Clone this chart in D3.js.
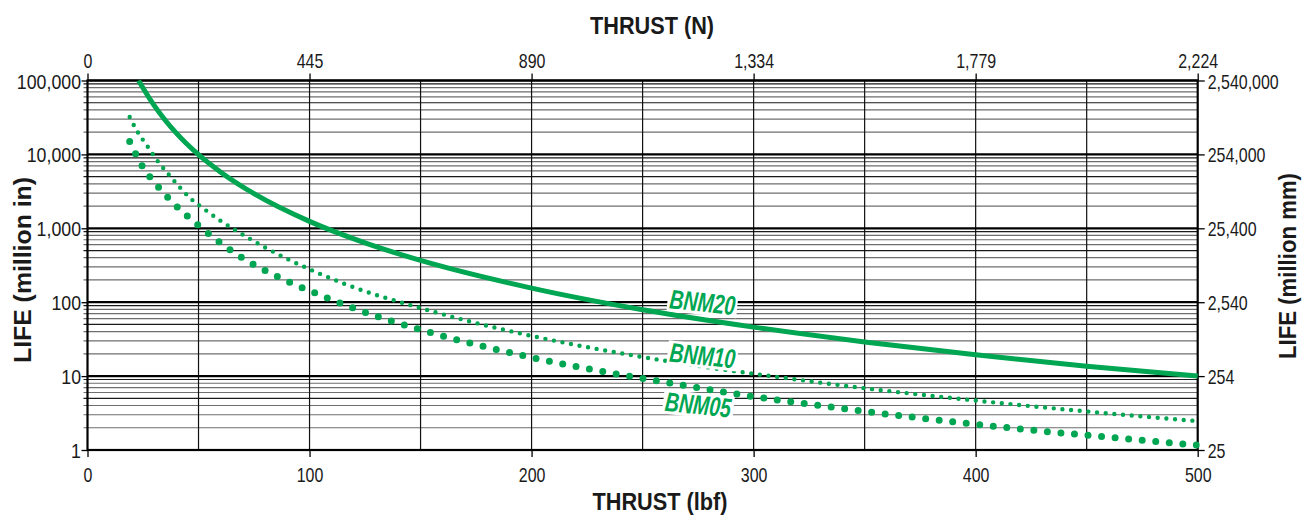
<!DOCTYPE html>
<html><head><meta charset="utf-8">
<script src="https://cdn.jsdelivr.net/npm/d3@7"></script>
<style>
html,body{margin:0;padding:0;background:#fff;}
svg{display:block;}
text{font-family:"Liberation Sans Narrow","Arial Narrow","Liberation Sans",Arial,sans-serif;fill:#1a1a1a;}
</style></head><body>
<svg id="c" width="1312" height="520"></svg>
<script>
// ---- data ----
const lbfTicks = [0, 100, 200, 300, 400, 500];
const newtonLabels = ["0", "445", "890", "1,334", "1,779", "2,224"];
const lifeTicks = [1, 10, 100, 1000, 10000, 100000];
const lifeInLabels = ["1", "10", "100", "1,000", "10,000", "100,000"];
const lifeMmLabels = ["25", "254", "2,540", "25,400", "254,000", "2,540,000"];

const bnm20Thrust = [23, 25, 30, 35, 40, 50, 60, 75, 100, 125, 150, 200, 250, 300, 350, 400, 450, 500];
const bnm20Life   = [100000, 79000, 46000, 29000, 19400, 9900, 5750, 2940, 1240, 635, 367, 155, 79, 46, 29, 19.4, 13.6, 10];

const bnm10Thrust = [19, 22, 27, 31, 36, 41, 46, 52, 59, 66, 72, 80, 90, 100, 116, 134, 145, 170, 200, 242, 285, 310, 350, 400, 460, 500];
const bnm10Life   = [32000, 21500, 12900, 8600, 5600, 3760, 2600, 1875, 1320, 966, 755, 550, 385, 279, 176, 115, 92, 57, 35, 19.9, 12.4, 9.8, 6.85, 4.67, 3.12, 2.46];

const bnm05Thrust = [19, 24.5, 32, 40, 50, 60, 70, 80, 90, 100, 115, 130, 150, 175, 200, 225, 252, 270, 283, 295, 325, 350, 375, 400, 430, 460, 500];
const bnm05Life   = [15000, 7100, 3600, 2000, 1090, 630, 392, 268, 192, 143, 94, 65, 42.4, 26.7, 17.9, 12.6, 9.06, 7.4, 6.34, 5.55, 4.17, 3.33, 2.71, 2.23, 1.80, 1.49, 1.16];

const seriesNames = ["BNM20", "BNM10", "BNM05"];
const labelThrust = [277, 277, 275];
const labelLife = [100, 19, 4.1];

// ---- layout ----
const GREEN = "#00a651";
const svg = d3.select("#c");
const X0 = 87.5, X1 = 1197.7, Y0 = 80.5, Y1 = 450;
const x = d3.scaleLinear().domain([0, 500]).range([X0, X1]);
const y = d3.scaleLog().domain([1, 100000]).range([Y1, Y0]);

// narrow-font emulation
function condense(sel, f) {
  sel.each(function () {
    const w = this.getComputedTextLength();
    d3.select(this).attr("textLength", w * f).attr("lengthAdjust", "spacingAndGlyphs");
  });
}
function fitTo(sel, w) {
  sel.attr("textLength", w).attr("lengthAdjust", "spacingAndGlyphs");
}

const g = svg.append("g");

// minor horizontal grid
const minor = [];
for (let d = 1; d < 100000; d *= 10) for (let m = 2; m <= 9; m++) minor.push({v: d * m, m});
g.selectAll("line.hmin").data(minor).enter().append("line")
  .attr("x1", X0 - 4).attr("x2", X1)
  .attr("y1", d => y(d.v)).attr("y2", d => y(d.v))
  .attr("stroke", d => (d.m === 5 || d.m === 9) ? "#1a1a1a" : "#6e6e6e")
  .attr("stroke-width", 1.2);

// vertical grid
g.selectAll("line.vg").data(d3.range(50, 500, 50)).enter().append("line")
  .attr("x1", d => x(d)).attr("x2", d => x(d))
  .attr("y1", Y0).attr("y2", Y1)
  .attr("stroke", "#111").attr("stroke-width", 1.2);

// decade lines
g.selectAll("line.dec").data(lifeTicks).enter().append("line")
  .attr("x1", X0).attr("x2", X1)
  .attr("y1", d => y(d)).attr("y2", d => y(d))
  .attr("stroke", "#000").attr("stroke-width", 2.2);

// frame
g.append("rect").attr("x", X0).attr("y", Y0).attr("width", X1 - X0).attr("height", Y1 - Y0)
  .attr("fill", "none").attr("stroke", "#000").attr("stroke-width", 2.2);

// axes
function styleAxis(sel, f) {
  sel.select(".domain").remove();
  sel.selectAll(".tick line").attr("stroke", "#000").attr("stroke-width", 1.3);
  sel.selectAll(".tick text").style("font-size", "21px").attr("fill", "#1a1a1a");
  condense(sel.selectAll(".tick text"), f);
}
const axLeft = svg.append("g").attr("transform", `translate(${X0},0)`)
  .call(d3.axisLeft(y).tickValues(lifeTicks).tickFormat((d, i) => lifeInLabels[i]).tickSize(6).tickPadding(0.5));
styleAxis(axLeft, 0.845);
axLeft.selectAll(".tick text").attr("dy", "0.36em");
const axRight = svg.append("g").attr("transform", `translate(${X1},0)`)
  .call(d3.axisRight(y).tickValues(lifeTicks).tickFormat((d, i) => lifeMmLabels[i]).tickSize(7).tickPadding(3));
styleAxis(axRight, 0.76);
axRight.selectAll(".tick text").attr("dy", "0.36em");
const axBottom = svg.append("g").attr("transform", `translate(0,${Y1})`)
  .call(d3.axisBottom(x).tickValues(lbfTicks).tickFormat(d3.format("d")).tickSize(7).tickPadding(10));
styleAxis(axBottom, 0.76);
const axTop = svg.append("g").attr("transform", `translate(0,${Y0})`)
  .call(d3.axisTop(x).tickValues(lbfTicks).tickFormat((d, i) => newtonLabels[i]).tickSize(7).tickPadding(5.5));
styleAxis(axTop, 0.76);

// axis titles
const tstyle = s => s.style("font-size", "24px").style("font-weight", "bold").attr("text-anchor", "middle");
svg.append("text").text("THRUST (N)").attr("x", 652).attr("y", 34).call(tstyle).call(fitTo, 124);
svg.append("text").text("THRUST (lbf)").attr("x", 660).attr("y", 510).call(tstyle).call(fitTo, 135);
svg.append("text").text("LIFE (million in)").attr("transform", "translate(31,270) rotate(-90)").call(tstyle).call(fitTo, 186);
svg.append("text").text("LIFE (million mm)").attr("transform", "translate(1296,266) rotate(-90)").call(tstyle).call(fitTo, 186);

// curves
const line = d3.line().x(d => x(d[0])).y(d => y(d[1])).curve(d3.curveMonotoneX);
svg.append("clipPath").attr("id", "pc").append("rect")
  .attr("x", X0).attr("y", Y0 - 1).attr("width", X1 - X0 + 2).attr("height", Y1 - Y0 + 2);
const series = [
  {t: bnm20Thrust, l: bnm20Life, w: 5, dash: null},
  {t: bnm10Thrust, l: bnm10Life, w: 4.4, dash: "0 8.7"},
  {t: bnm05Thrust, l: bnm05Life, w: 7, dash: "0 13.6"}
];
series.forEach(s => {
  const p = svg.append("path").datum(s.t.map((t, i) => [t, s.l[i]]))
    .attr("d", line).attr("fill", "none").attr("stroke", GREEN)
    .attr("stroke-width", s.w).attr("clip-path", "url(#pc)");
  if (s.dash) p.attr("stroke-dasharray", s.dash).attr("stroke-linecap", "round");
});

// series labels
seriesNames.forEach((n, i) => {
  const lg = svg.append("g").attr("transform", `translate(${x(labelThrust[i])},${y(labelLife[i])}) rotate(6)`);
  const t = lg.append("text").text(n).attr("text-anchor", "middle").attr("dy", "0.35em")
    .style("font-size", "27px").style("font-weight", "bold").style("font-style", "italic")
    .style("fill", GREEN).call(fitTo, 66);
  const bb = t.node().getBBox();
  lg.insert("rect", "text").attr("x", bb.x - 2).attr("y", bb.y + 3).attr("width", bb.width + 4).attr("height", bb.height - 6)
    .attr("fill", "#fff");
});
</script>
</body></html>
